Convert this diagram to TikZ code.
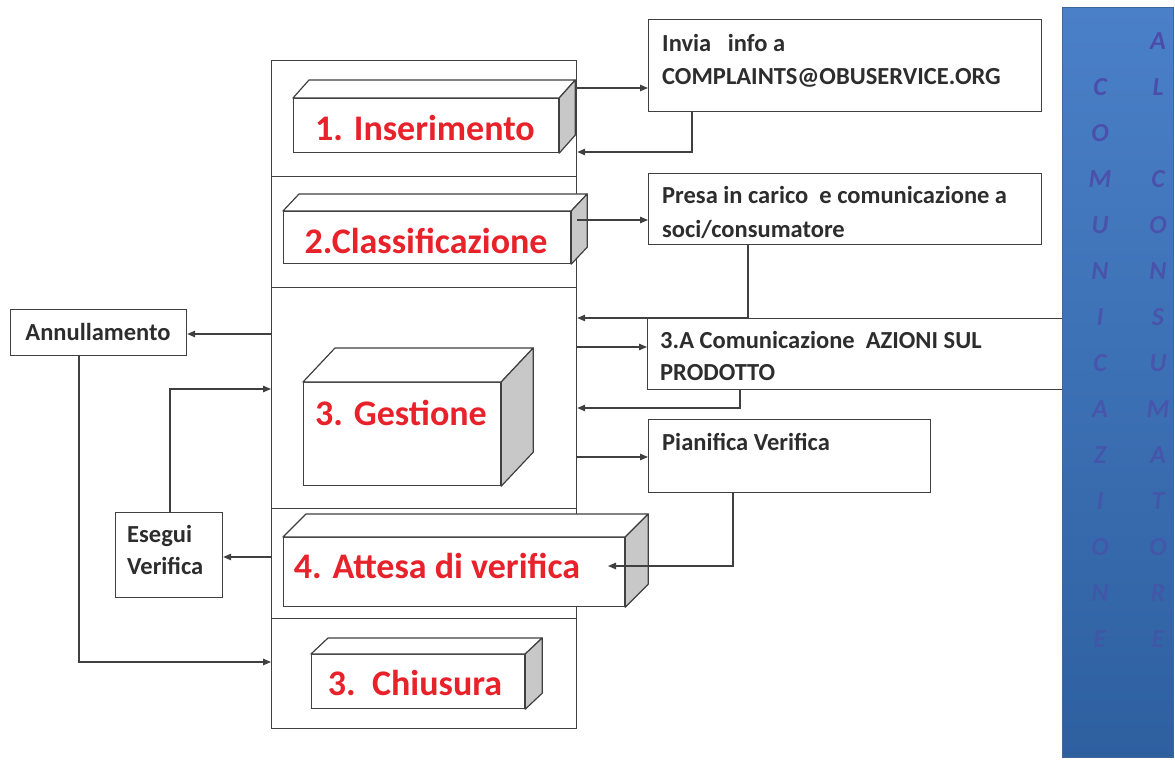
\documentclass[tikz,border=0pt]{standalone}
\usepackage{fontspec}
\setmainfont{Carlito}
\usetikzlibrary{arrows.meta}
\definecolor{ln}{RGB}{64,64,64}
\definecolor{txt}{RGB}{45,45,45}
\definecolor{redl}{RGB}{232,34,42}
\definecolor{side}{RGB}{200,200,200}
\definecolor{pantop}{RGB}{74,128,200}
\definecolor{panbot}{RGB}{46,96,160}
\definecolor{letc}{RGB}{76,76,168}
\tikzset{
  box/.style={draw=ln, line width=1.2pt, fill=white, anchor=north west, inner sep=0pt},
  face/.style={draw=ln, line width=1.2pt, fill=white, anchor=north west, inner sep=0pt},
  topf/.style={draw=ln, line width=1.2pt, fill=white, line join=round},
  sidef/.style={draw=ln, line width=1.2pt, fill=side, line join=round},
  arr/.style={draw=ln, line width=1.2pt, -{Triangle[length=8pt,width=6.5pt]}},
  lbl/.style={anchor=base west, inner sep=0pt, text=txt, font=\fontsize{24.5}{30}\selectfont\bfseries},
  red/.style={anchor=base, inner sep=0pt, text=redl, font=\fontsize{36}{40}\selectfont\bfseries},
  letter/.style={text=letc, inner sep=0pt, font=\fontsize{26}{28}\selectfont\bfseries\itshape}
}
\newcommand{\mkcuboid}[3]{%
  \path[topf] (#1.north west) -- ([shift={(#2,-#3)}]#1.north west) -- ([shift={(#2,-#3)}]#1.north east) -- (#1.north east) -- cycle;
  \path[sidef] (#1.north east) -- ([shift={(#2,-#3)}]#1.north east) -- ([shift={(#2,-#3)}]#1.south east) -- (#1.south east) -- cycle;
}
\begin{document}
\begin{tikzpicture}[x=1pt,y=-1pt]
\useasboundingbox[fill=white] (0,0) rectangle (1175,762);

% column sections
\node[box, minimum width=305pt, minimum height=116pt] (s1) at (271,60) {};
\node[box, minimum width=305pt, minimum height=111pt] (s2) at (271,176) {};
\node[box, minimum width=305pt, minimum height=221pt] (s3) at (271,287) {};
\node[box, minimum width=305pt, minimum height=110pt] (s4) at (271,508) {};
\node[box, minimum width=305pt, minimum height=110pt] (s5) at (271,618) {};

% cuboids
\node[face, minimum width=265pt, minimum height=54pt] (c1) at (293,98) {};
\mkcuboid{c1}{16}{18}
\node[red] (t1) at (425,141) {1. Inserimento};

\node[face, minimum width=287pt, minimum height=52pt] (c2) at (283,211) {};
\mkcuboid{c2}{16}{17}
\node[red] (t2) at (426,253) {2.Classificazione};

\node[face, minimum width=197pt, minimum height=103pt] (c3) at (303,382) {};
\mkcuboid{c3}{32}{34}
\node[red] (t3) at (401,425) {3. Gestione};

\node[face, minimum width=341pt, minimum height=69pt] (c4) at (283,537) {};
\mkcuboid{c4}{23}{23}
\node[red] (t4) at (437,578) {4. Attesa di verifica};

\node[face, minimum width=213pt, minimum height=54pt] (c5) at (311,654) {};
\mkcuboid{c5}{17}{16}
\node[red] (t5) at (415,695) {3.\ \ Chiusura};

% right boxes
\node[box, minimum width=393pt, minimum height=92pt] (invia) at (648,19) {};
\node[lbl] (invia1) at (662,52) {Invia\ \ \ info a};
\node[lbl] (invia2) at (662,85) {COMPLAINTS@OBUSERVICE.ORG};

\node[box, minimum width=393pt, minimum height=71pt] (presa) at (648,173) {};
\node[lbl] (presa1) at (662,204) {Presa in carico\ \ e comunicazione a};
\node[lbl] (presa2) at (662,237) {soci/consumatore};

\node[box, minimum width=420pt, minimum height=71pt] (boxA) at (647,318) {};
\node[lbl] (boxA1) at (660,348) {3.A Comunicazione\ \ AZIONI SUL};
\node[lbl] (boxA2) at (660,380) {PRODOTTO};

\node[box, minimum width=282pt, minimum height=73pt] (pian) at (648,419) {};
\node[lbl] (pian1) at (662,450) {Pianifica Verifica};

% left boxes
\node[box, minimum width=176pt, minimum height=46pt] (annul) at (10,309) {};
\node[lbl, anchor=base] (annul1) at (98,340) {Annullamento};

\node[box, minimum width=107pt, minimum height=85pt] (esegui) at (115,512) {};
\node[lbl] (esegui1) at (127,542) {Esegui};
\node[lbl] (esegui2) at (127,574) {Verifica};

% blue panel
\node[anchor=north west, inner sep=0pt, minimum width=111pt, minimum height=750pt,
      top color=pantop, bottom color=panbot, draw=panbot!80!gray, line width=0.8pt] (panel) at (1062,7) {};
\foreach \l [count=\i from 0] in {C,O,M,U,N,I,C,A,Z,I,O,N,E}{
  \pgfmathsetmacro{\op}{0.95-0.035*\i}
  \node[letter, opacity=\op] (lc\i) at (1100,{87+46*\i}) {\l};
}
\foreach \l [count=\i from 0] in {A,L,{},C,O,N,S,U,M,A,T,O,R,E}{
  \pgfmathsetmacro{\op}{0.98-0.033*\i}
  \node[letter, opacity=\op] (rc\i) at (1158,{41+46*\i}) {\l};
}

% helper coordinates
\coordinate (h1) at (0,88);
\coordinate (h2) at (0,152);
\coordinate (h3) at (0,220);
\coordinate (h4) at (0,318);
\coordinate (h5) at (0,347);
\coordinate (h6) at (0,408);
\coordinate (h7) at (0,457);
\coordinate (h9) at (0,334);
\coordinate (h10) at (0,662);
\coordinate (h11) at (0,557);
\coordinate (h12) at (0,389);
\coordinate (v1) at (692,0);
\coordinate (v2) at (748,0);
\coordinate (v3) at (740,0);
\coordinate (v4) at (733,0);
\coordinate (v5) at (79,0);
\coordinate (v6) at (170,0);
\coordinate (t8) at (608,566);

% connectors
\draw[arr] (s1.east |- h1) -- (invia.west |- h1);
\draw[arr] (v1 |- invia.south) |- (s1.east |- h2);
\draw[arr] (s2.east |- h3) -- (presa.west |- h3);
\draw[arr] (v2 |- presa.south) |- (s3.east |- h4);
\draw[arr] (s3.east |- h5) -- (boxA.west |- h5);
\draw[arr] (v3 |- boxA.south) |- (s3.east |- h6);
\draw[arr] (s3.east |- h7) -- (pian.west |- h7);
\draw[arr] (v4 |- pian.south) |- (t8);
\draw[arr] (s3.west |- h9) -- (annul.east |- h9);
\draw[arr] (v5 |- annul.south) |- (s5.west |- h10);
\draw[arr] (s4.west |- h11) -- (esegui.east |- h11);
\draw[arr] (v6 |- esegui.north) |- (s3.west |- h12);
\end{tikzpicture}
\end{document}
